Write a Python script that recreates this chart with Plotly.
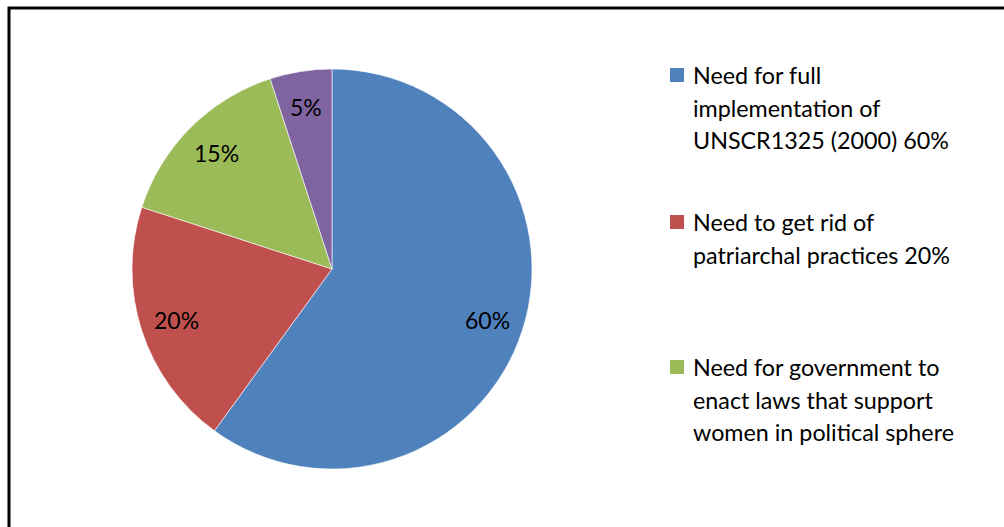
import math
import plotly.graph_objects as go

# Survey responses (share of respondents)
labels = [
    "Need for full implementation of UNSCR1325 (2000) 60%",
    "Need to get rid of patriarchal practices 20%",
    "Need for government to enact laws that support women in political sphere",
    "Other 5%",
]
values = [60, 20, 15, 5]
colors = ["#4F81BD", "#C0504D", "#9BBB59", "#8064A2"]

# Legend text, wrapped the way it is laid out beside the pie
legend_lines = [
    ["Need for full", "implementation of", "UNSCR1325 (2000) 60%"],
    ["Need to get rid of", "patriarchal practices 20%"],
    ["Need for government to", "enact laws that support", "women in political sphere"],
]

W, H = 1004, 527
FONT = "Lato"

# Pie geometry in pixels
cx, cy, r = 332, 269, 200

fig = go.Figure(
    go.Pie(
        labels=labels,
        values=values,
        sort=False,
        direction="clockwise",
        rotation=0,
        marker=dict(colors=colors, line=dict(color="white", width=0.6)),
        textinfo="none",
        hoverinfo="label+percent",
        showlegend=False,
        domain=dict(x=[(cx - r) / W, (cx + r) / W], y=[1 - (cy + r) / H, 1 - (cy - r) / H]),
    )
)

annotations = []
shapes = []

# Percentage labels placed at the middle angle of each slice
total = sum(values)
start = 0.0
for v in values:
    mid = start + v / total * 360 / 2
    start += v / total * 360
    rad = math.radians(mid)
    lr = 0.82 * r
    px = cx + lr * math.sin(rad)
    py = cy - lr * math.cos(rad)
    annotations.append(dict(
        x=px / W, y=1 - py / H, xref="paper", yref="paper",
        text=f"{round(v / total * 100)}%", showarrow=False,
        font=dict(family=FONT, size=23, color="#000000"),
        xanchor="center", yanchor="middle",
    ))

# Legend drawn beside the pie
entry_top = [75, 222, 367]
line_gap = 32.5
for i, lines in enumerate(legend_lines):
    y0 = entry_top[i]
    shapes.append(dict(
        type="rect", xref="paper", yref="paper",
        x0=670 / W, x1=684 / W, y0=1 - (y0 + 7) / H, y1=1 - (y0 - 7) / H,
        fillcolor=colors[i], line=dict(width=0),
    ))
    for j, t in enumerate(lines):
        annotations.append(dict(
            x=691 / W, y=1 - (y0 + j * line_gap) / H, xref="paper", yref="paper",
            text=t, showarrow=False,
            font=dict(family=FONT, size=23.3, color="#000000"),
            xanchor="left", yanchor="middle",
        ))

# Chart frame
shapes.append(dict(
    type="rect", xref="paper", yref="paper",
    x0=9 / W, x1=1.02, y0=-0.05, y1=1 - 8 / H,
    line=dict(color="#000000", width=3), fillcolor="rgba(0,0,0,0)", layer="above",
))

fig.update_layout(
    width=W, height=H,
    margin=dict(l=0, r=0, t=0, b=0),
    paper_bgcolor="white", plot_bgcolor="white",
    annotations=annotations, shapes=shapes,
)

fig.write_html("out.html")
